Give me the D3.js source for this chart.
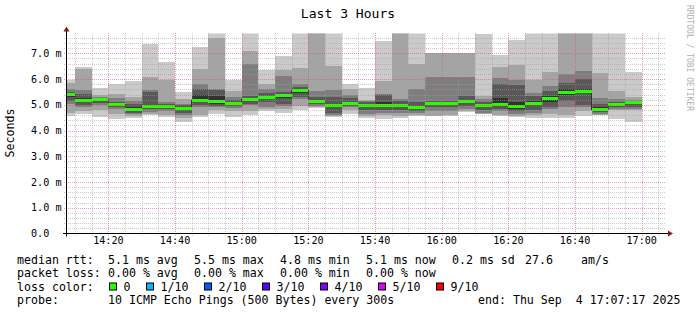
<!DOCTYPE html>
<html>
<head>
<meta charset="utf-8">
<script src="https://cdn.jsdelivr.net/npm/d3@7"></script>
<style>
  body { margin: 0; background: #fff; }
  svg text { font-family: "DejaVu Sans Mono", monospace; fill: #000; white-space: pre; }
</style>
</head>
<body>
<div id="chart"></div>
<script>
// Data: one bar every 5 minutes, end time of each bar
const endTimes = ["14:10","14:15","14:20","14:25","14:30","14:35","14:40","14:45","14:50","14:55",
  "15:00","15:05","15:10","15:15","15:20","15:25","15:30","15:35","15:40","15:45",
  "15:50","15:55","16:00","16:05","16:10","16:15","16:20","16:25","16:30","16:35",
  "16:40","16:45","16:50","16:55","17:00"]

// 10 sorted pings per bar, in ms
const pings = [
  [4.56, 4.68, 5.05, 5.15, 5.30, 5.45, 5.50, 5.60, 5.84, 5.96],
  [4.64, 4.77, 4.90, 4.98, 5.12, 5.25, 5.42, 5.59, 6.40, 6.47],
  [4.54, 4.80, 4.98, 5.08, 5.18, 5.24, 5.26, 5.30, 5.38, 5.64],
  [4.43, 4.64, 4.85, 4.92, 4.98, 5.06, 5.12, 5.27, 5.43, 5.81],
  [4.48, 4.55, 4.64, 4.70, 4.78, 4.90, 5.02, 5.13, 5.30, 5.94],
  [4.59, 4.64, 4.72, 4.82, 4.90, 4.98, 5.50, 5.56, 6.07, 7.36],
  [4.52, 4.62, 4.75, 4.85, 4.92, 4.97, 5.02, 5.11, 5.97, 6.66],
  [4.34, 4.47, 4.60, 4.68, 4.80, 4.88, 4.98, 5.05, 5.21, 5.51],
  [4.54, 4.60, 4.90, 4.99, 5.10, 5.38, 5.60, 5.81, 6.39, 7.26],
  [4.64, 4.78, 4.92, 4.97, 5.05, 5.35, 5.58, 5.62, 7.60, 7.90],
  [4.54, 4.75, 4.88, 4.95, 5.02, 5.10, 5.18, 5.31, 5.55, 5.97],
  [4.59, 4.75, 5.00, 5.05, 5.15, 5.25, 5.33, 6.59, 7.08, 7.90],
  [4.74, 4.82, 4.90, 5.10, 5.22, 5.35, 5.45, 5.61, 5.82, 6.36],
  [4.70, 4.85, 4.95, 5.05, 5.28, 5.40, 5.50, 6.12, 6.36, 6.88],
  [4.81, 4.95, 5.22, 5.30, 5.45, 5.58, 5.68, 5.81, 6.42, 7.90],
  [4.87, 4.92, 4.96, 5.02, 5.10, 5.20, 5.30, 5.52, 7.85, 7.95],
  [4.51, 4.56, 4.60, 4.70, 4.90, 5.05, 5.30, 5.59, 6.52, 7.90],
  [4.64, 4.80, 4.90, 4.96, 5.02, 5.12, 5.25, 5.40, 5.62, 5.81],
  [4.47, 4.55, 4.65, 4.80, 4.93, 5.05, 5.12, 5.16, 5.18, 5.65],
  [4.43, 4.62, 4.70, 4.78, 4.95, 5.10, 5.38, 5.42, 5.91, 7.49],
  [4.49, 4.56, 4.68, 4.80, 4.95, 5.05, 5.15, 5.24, 7.85, 7.90],
  [4.56, 4.62, 4.68, 4.75, 4.86, 4.97, 5.10, 5.62, 6.60, 7.90],
  [4.55, 4.58, 4.75, 4.92, 5.02, 5.10, 5.15, 6.07, 7.00, 7.01],
  [4.58, 4.60, 4.76, 4.92, 5.00, 5.10, 5.15, 6.07, 7.00, 7.01],
  [4.72, 4.75, 4.85, 4.95, 5.10, 5.20, 5.35, 6.07, 7.00, 7.01],
  [4.63, 4.66, 4.70, 4.80, 4.95, 5.04, 5.10, 5.22, 5.33, 7.75],
  [4.55, 4.60, 4.75, 4.85, 4.98, 5.25, 5.81, 6.05, 6.47, 6.95],
  [4.51, 4.55, 4.65, 4.75, 4.85, 5.10, 5.78, 5.98, 6.56, 7.52],
  [4.47, 4.62, 4.68, 4.80, 5.00, 5.15, 5.33, 5.45, 5.97, 7.90],
  [4.47, 4.65, 4.84, 4.92, 5.12, 5.35, 5.55, 5.72, 6.28, 7.90],
  [4.48, 4.60, 4.90, 5.15, 5.40, 5.60, 5.83, 6.20, 7.85, 7.95],
  [4.56, 4.75, 4.90, 5.00, 5.45, 5.60, 6.02, 6.31, 7.85, 7.95],
  [4.59, 4.62, 4.66, 4.72, 4.80, 4.90, 5.05, 5.25, 6.25, 7.90],
  [4.43, 4.80, 4.85, 4.90, 4.98, 5.05, 5.12, 5.23, 5.55, 7.90],
  [4.34, 4.80, 4.85, 4.92, 5.02, 5.10, 5.15, 5.20, 5.30, 6.28]
]

const median = [5.40, 5.18, 5.21, 5.02, 4.83, 4.94, 4.94, 4.84, 5.18, 5.13,
  5.06, 5.21, 5.29, 5.35, 5.55, 5.14, 4.97, 5.06, 4.99, 4.99,
  4.99, 4.90, 5.06, 5.05, 5.13, 4.99, 5.03, 4.92, 5.05, 5.23,
  5.49, 5.53, 4.83, 5.02, 5.07]

// Axis labels
const yTicks = [0, 1, 2, 3, 4, 5, 6, 7]
const xTicks = ["14:20", "14:40", "15:00", "15:20", "15:40", "16:00", "16:20", "16:40", "17:00"]

// Legend texts
const rttStats = ["5.1 ms avg", "5.5 ms max", "4.8 ms min", "5.1 ms now", "0.2 ms sd"]
const lossStats = ["0.00 % avg", "0.00 % max", "0.00 % min", "0.00 % now"]
const lossLabels = ["0", "1/10", "2/10", "3/10", "4/10", "5/10", "9/10"]
const lossColors = ["#26ff00", "#00b8ff", "#0059ff", "#5e00ff", "#7e00ff", "#dd00ff", "#ff0000"]

// Dimensions
const width = 697
const height = 315
const plot = {left: 66, right: 666, top: 33.5, bottom: 233.5}
const yMax = 7.77
const smokeColors = ["#cacaca", "#a4a4a4", "#7e7e7e", "#585858", "#323232"]
const gridColor = "rgba(160,160,160,0.55)"
const mgridColor = "rgba(222,79,79,0.55)"
const arrowColor = "#8b1a1a"
const charW = 7.0

const parseTime = d3.timeParse("%Y-%m-%d %H:%M:%S")
const day = "2025-09-04 "
const startTime = parseTime(day + "14:07:17")
const endTime = parseTime(day + "17:07:17")

const svg = d3.select("#chart")
  .append("svg")
    .attr("width", width)
    .attr("height", height)

svg.append("rect")
  .attr("width", width).attr("height", height).attr("fill", "#fff")

const xScale = d3.scaleTime()
  .domain([startTime, endTime])
  .range([plot.left, plot.right])

const yScale = d3.scaleLinear()
  .domain([0, yMax])
  .range([plot.bottom, plot.top])

svg.append("clipPath").attr("id", "plotClip")
  .append("rect")
    .attr("x", plot.left).attr("y", plot.top)
    .attr("width", plot.right - plot.left).attr("height", plot.bottom - plot.top)

const bars = endTimes.map(function(t, i) {
  const end = parseTime(day + t + ":00")
  return {start: d3.timeMinute.offset(end, -5), end: end, p: pings[i], median: median[i]}
})

// Smoke
const smoke = svg.append("g")
  .attr("clip-path", "url(#plotClip)")
  .attr("shape-rendering", "crispEdges")

smokeColors.forEach(function(color, band) {
  smoke.selectAll(".band" + band)
    .data(bars)
    .enter().append("rect")
      .attr("fill", color)
      .attr("x", function(d) { return xScale(d.start) })
      .attr("width", function(d) { return xScale(d.end) - xScale(d.start) })
      .attr("y", function(d) { return yScale(d.p[9 - band]) })
      .attr("height", function(d) { return yScale(d.p[band]) - yScale(d.p[9 - band]) })
})

// Median: dark step line and green bands
const stepPoints = []
bars.forEach(function(d) {
  stepPoints.push([xScale(d.start), yScale(d.median)])
  stepPoints.push([xScale(d.end), yScale(d.median)])
})
smoke.append("path")
  .attr("d", d3.line()(stepPoints))
  .attr("fill", "none")
  .attr("stroke", "#303030")
  .attr("stroke-width", 1)

smoke.selectAll(".median")
  .data(bars)
  .enter().append("rect")
    .attr("fill", lossColors[0])
    .attr("x", function(d) { return xScale(d.start) })
    .attr("width", function(d) { return xScale(d.end) - xScale(d.start) })
    .attr("y", function(d) { return yScale(d.median) - 1.5 })
    .attr("height", 3)

// Grid lines, drawn over the smoke, dotted
const grid = svg.append("g")
  .attr("stroke-dasharray", "1,1")
  .attr("shape-rendering", "crispEdges")

const minorTimes = d3.timeMinute.every(5).range(startTime, endTime)
minorTimes.forEach(function(t) {
  const major = t.getMinutes() % 20 === 0
  const x = Math.round(xScale(t)) + 0.5
  grid.append("line")
    .attr("x1", x).attr("x2", x)
    .attr("y1", plot.bottom + 2.5).attr("y2", Math.floor(plot.top))
    .attr("stroke", major ? mgridColor : gridColor)
})

const minorValues = d3.range(1, Math.floor(yMax / 0.2) + 1).map(function(i) { return i * 0.2 })
minorValues.forEach(function(v) {
  const major = Math.abs(v - Math.round(v)) < 1e-6
  const y = Math.round(yScale(v)) + 0.5
  grid.append("line")
    .attr("x1", plot.left - 2).attr("x2", plot.right)
    .attr("y1", y).attr("y2", y)
    .attr("stroke", major ? mgridColor : gridColor)
})

// Axes
svg.append("line")
  .attr("x1", plot.left - 3).attr("x2", plot.right + 2)
  .attr("y1", plot.bottom).attr("y2", plot.bottom)
  .attr("stroke", "#000")
svg.append("line")
  .attr("x1", plot.left + 0.5).attr("x2", plot.left + 0.5)
  .attr("y1", plot.bottom + 3).attr("y2", plot.top - 3)
  .attr("stroke", "#000")

svg.append("path")
  .attr("d", `M${plot.right + 2},${plot.bottom - 3}L${plot.right + 7},${plot.bottom}L${plot.right + 2},${plot.bottom + 3}Z`)
  .attr("fill", arrowColor)
svg.append("path")
  .attr("d", `M${plot.left - 2.5},${plot.top - 2}L${plot.left + 0.5},${plot.top - 7}L${plot.left + 3.5},${plot.top - 2}Z`)
  .attr("fill", arrowColor)

// Y labels
svg.selectAll(".ylabel")
  .data(yTicks)
  .enter().append("text")
    .attr("x", 31)
    .attr("y", function(d) { return yScale(d) + 3.5 })
    .style("font-size", "10.15px")
    .text(function(d) { return d === 0 ? "0.0" : d.toFixed(1) + " m" })

// X labels
svg.selectAll(".xlabel")
  .data(xTicks)
  .enter().append("text")
    .attr("x", function(d) { return xScale(parseTime(day + d + ":00")) })
    .attr("y", 244)
    .attr("text-anchor", "middle")
    .style("font-size", "10.15px")
    .text(function(d) { return d })

// Title, unit, watermark
svg.append("text")
  .attr("x", 348).attr("y", 18)
  .attr("text-anchor", "middle")
  .style("font-size", "13.05px")
  .text("Last 3 Hours")

svg.append("text")
  .attr("transform", "translate(14,133) rotate(-90)")
  .attr("text-anchor", "middle")
  .style("font-size", "11.6px")
  .text("Seconds")

svg.append("text")
  .attr("transform", "translate(687,5) rotate(90)")
  .style("font-size", "8px")
  .style("fill", "#b0b0b0")
  .text("RRDTOOL / TOBI OETIKER")

// Legend
const legend = svg.append("g")
  .style("font-size", "11.6px")

const rowY = [263.5, 277, 290.5, 304]
const colX = 108
const colStep = 86

legend.append("text").attr("x", 17).attr("y", rowY[0]).text("median rtt:")
rttStats.forEach(function(s, i) {
  legend.append("text").attr("x", colX + i * colStep).attr("y", rowY[0]).text(s)
})
legend.append("text").attr("x", 525).attr("y", rowY[0]).text("27.6")
legend.append("text").attr("x", 581).attr("y", rowY[0]).text("am/s")

legend.append("text").attr("x", 17).attr("y", rowY[1]).text("packet loss:")
lossStats.forEach(function(s, i) {
  legend.append("text").attr("x", colX + i * colStep).attr("y", rowY[1]).text(s)
})

legend.append("text").attr("x", 17).attr("y", rowY[2]).text("loss color:")
let bx = 109
lossLabels.forEach(function(s, i) {
  legend.append("rect")
    .attr("x", bx + 0.5).attr("y", rowY[2] - 7.5)
    .attr("width", 7).attr("height", 7)
    .attr("fill", lossColors[i])
    .attr("stroke", "#000")
  legend.append("text").attr("x", bx + 14.5).attr("y", rowY[2]).text(s)
  bx = bx + 14.5 + s.length * charW + 15.5
})

legend.append("text").attr("x", 17).attr("y", rowY[3]).text("probe:")
legend.append("text").attr("x", colX).attr("y", rowY[3]).text("10 ICMP Echo Pings (500 Bytes) every 300s")
legend.append("text").attr("x", 478).attr("y", rowY[3]).text("end: Thu Sep  4 17:07:17 2025")
</script>
</body>
</html>
